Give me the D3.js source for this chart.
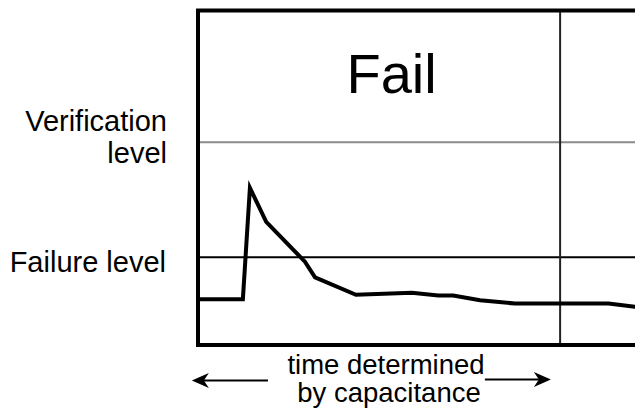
<!DOCTYPE html>
<html>
<head>
<meta charset="utf-8">
<script src="https://cdn.jsdelivr.net/npm/d3@7"></script>
<style>
  html, body { margin: 0; padding: 0; background: #fff; }
  svg { display: block; }
  text { font-family: "Liberation Sans", Arial, Helvetica, sans-serif; fill: #000; }
</style>
</head>
<body>
<div id="chart"></div>
<script>
// ---- data ----
const timeValues   = [0.3, 10.2, 11.8, 15.5, 24.3, 26.6, 35.9, 48.6, 54.6, 58.0, 64.1, 72.0, 93.3, 99.3, 101];
const signalValues = [13.7, 13.7, 47.0, 36.8, 24.9, 20.2, 15.0, 15.6, 14.8, 14.8, 13.4, 12.4, 12.4, 11.4, 11.2];
const levelNames   = ["Verification level", "Failure level"];
const levelValues  = [60.6, 26.2];
const markerTime   = [82.3];
const regionLabel  = "Fail";
const axisNoteLines = ["time determined", "by capacitance"];

// ---- layout ----
const W = 635, H = 410;
const plotLeft = 198, plotTop = 10.5, plotBottom = 345, plotRight = 638;

const svg = d3.select("#chart").append("svg").attr("width", W).attr("height", H);

const x = d3.scaleLinear().domain([0, 100]).range([plotLeft, plotRight]);
const y = d3.scaleLinear().domain([0, 100]).range([plotBottom, plotTop]);

// level lines
svg.append("line")
  .attr("x1", x(0)).attr("x2", W + 10)
  .attr("y1", y(levelValues[0])).attr("y2", y(levelValues[0]))
  .attr("stroke", "#8a8a8a").attr("stroke-width", 2);
svg.append("line")
  .attr("x1", x(0)).attr("x2", W + 10)
  .attr("y1", y(levelValues[1])).attr("y2", y(levelValues[1]))
  .attr("stroke", "#000").attr("stroke-width", 2);

// vertical marker
svg.selectAll("line.marker").data(markerTime).enter().append("line")
  .attr("class", "marker")
  .attr("x1", d => x(d)).attr("x2", d => x(d))
  .attr("y1", y(100)).attr("y2", y(0))
  .attr("stroke", "#222").attr("stroke-width", 2);

// signal line
const pts = timeValues.map((t, i) => [t, signalValues[i]]);
svg.append("path")
  .datum(pts)
  .attr("d", d3.line().x(d => x(d[0])).y(d => y(d[1])))
  .attr("fill", "none")
  .attr("stroke", "#000")
  .attr("stroke-width", 4)
  .attr("stroke-linejoin", "miter");

// frame
svg.append("rect")
  .attr("x", x(0)).attr("y", y(100))
  .attr("width", W + 40 - x(0)).attr("height", y(0) - y(100))
  .attr("fill", "none").attr("stroke", "#000").attr("stroke-width", 4);

// region label
svg.append("text")
  .attr("x", x(44)).attr("y", 93)
  .attr("text-anchor", "middle")
  .attr("font-size", 56)
  .text(regionLabel);

// level labels
svg.append("text")
  .attr("x", 167).attr("y", 131)
  .attr("text-anchor", "end").attr("font-size", 29)
  .text("Verification");
svg.append("text")
  .attr("x", 167).attr("y", 163)
  .attr("text-anchor", "end").attr("font-size", 29)
  .text("level");
svg.append("text")
  .attr("x", 166).attr("y", 272)
  .attr("text-anchor", "end").attr("font-size", 29)
  .text(levelNames[1]);

// bottom note
svg.append("text")
  .attr("x", 386).attr("y", 374)
  .attr("text-anchor", "middle").attr("font-size", 27.5)
  .text(axisNoteLines[0]);
svg.append("text")
  .attr("x", 389).attr("y", 402)
  .attr("text-anchor", "middle").attr("font-size", 27.5)
  .text(axisNoteLines[1]);

// arrows
function arrow(xFrom, xTo, yy) {
  const dir = Math.sign(xTo - xFrom);
  const len = 17, hw = 7.5, notch = 5;
  svg.append("line")
    .attr("x1", xFrom).attr("x2", xTo - dir * (len - notch))
    .attr("y1", yy).attr("y2", yy)
    .attr("stroke", "#000").attr("stroke-width", 2.2);
  const p = d3.path();
  p.moveTo(xTo, yy);
  p.lineTo(xTo - dir * len, yy - hw);
  p.lineTo(xTo - dir * (len - notch), yy);
  p.lineTo(xTo - dir * len, yy + hw);
  p.closePath();
  svg.append("path").attr("d", p.toString()).attr("fill", "#000");
}
arrow(x(15.9), x(-1.4), 380.5);
arrow(x(65.2), x(80.2), 379.5);
</script>
</body>
</html>
